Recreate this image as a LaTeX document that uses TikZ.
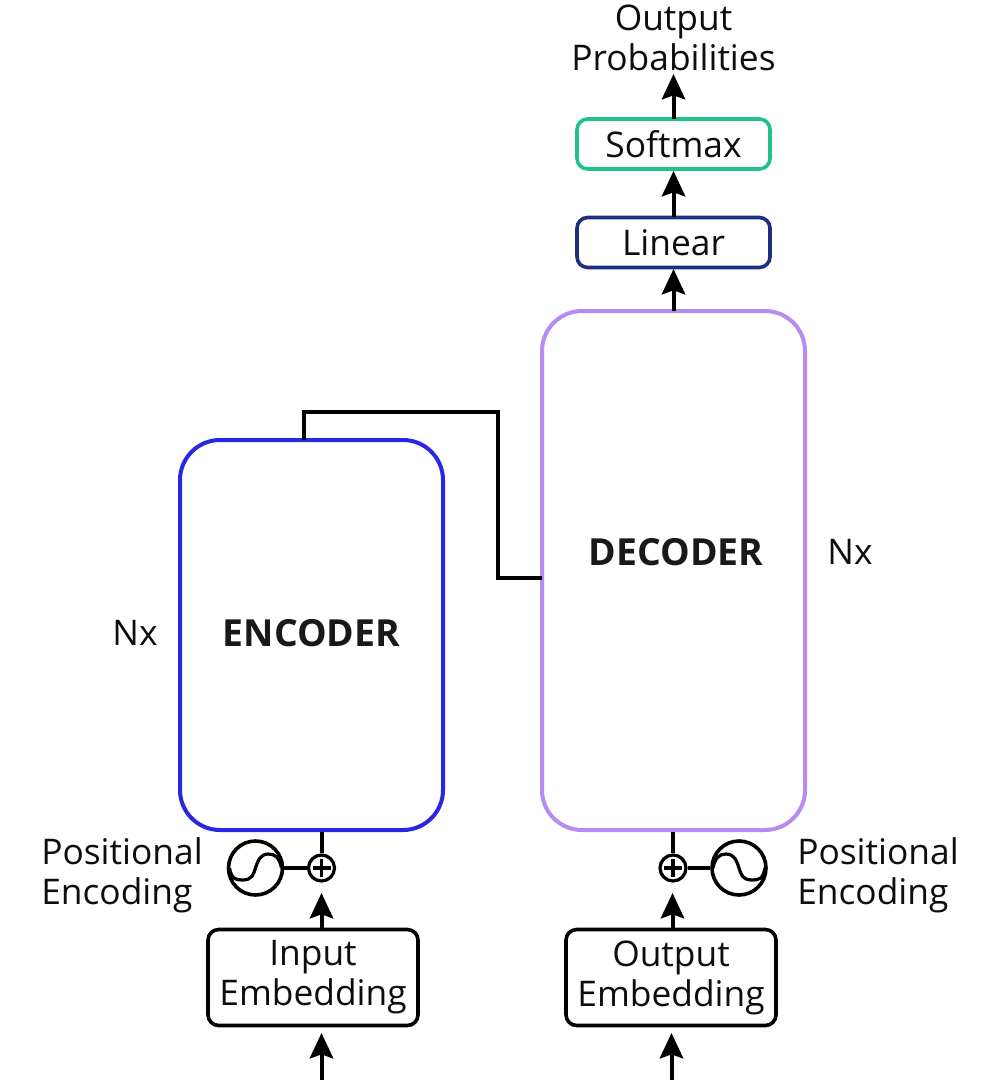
\documentclass[tikz,border=0pt]{standalone}
\usepackage{fontspec}
\setmainfont{Open Sans}
\usetikzlibrary{arrows.meta,calc}
\definecolor{encblue}{HTML}{2A26E4}
\definecolor{decpurple}{HTML}{B48CF2}
\definecolor{softgreen}{HTML}{1FC28F}
\definecolor{linnavy}{HTML}{1E2F80}
\tikzset{
  px/.style={x=0.75pt,y=-0.75pt},
  txt/.style={font=\fontsize{26.5}{30}\selectfont,text=black!95,inner sep=0pt,align=center},
  boldtxt/.style={font=\fontsize{28}{30}\selectfont\bfseries,text=black!90,inner sep=0pt},
  leftxt/.style={font=\fontsize{26.5}{30}\selectfont,text=black!95,inner sep=0pt,align=left,anchor=west},
  bigbox/.style={draw=#1,line width=3pt,rounded corners=30pt,inner sep=0pt,minimum width=197.25pt},
  smallbox/.style={draw=#1,line width=2.7pt,rounded corners=8pt,inner sep=0pt,minimum width=144.75pt,minimum height=37.5pt,txt},
  embbox/.style={draw=black,line width=2.7pt,rounded corners=8pt,inner sep=0pt,minimum width=157.5pt,minimum height=72pt,txt},
  sine/.style={circle,draw=black,line width=2.7pt,minimum size=40.5pt,inner sep=0pt},
  plusn/.style={circle,draw=black,line width=2.4pt,minimum size=19.5pt,inner sep=0pt},
  conn/.style={draw=black,line width=3pt},
  arr/.style={conn,-{Stealth[length=19pt,width=17.5pt,inset=3pt]}},
  curve/.style={draw=black,line width=2.4pt},
}
\begin{document}
\begin{tikzpicture}[px]
\useasboundingbox (0,0) rectangle (1001,1080);
% boxes
\node[bigbox=encblue,minimum height=292.5pt] (enc) at (311.5,635) {};
\node[bigbox=decpurple,minimum height=389.25pt] (dec) at (673.5,570.5) {};
\node[boldtxt] (enct) at (311.5,633) {ENCODER};
\node[boldtxt] (dect) at (676,552) {DECODER};
\node[txt] (nxl) at (135,633) {Nx};
\node[txt] (nxr) at (850,552) {Nx};
\node[smallbox=softgreen] (soft) at (673.5,144) {Softmax};
\node[smallbox=linnavy] (lin) at (673.5,242.5) {Linear};
\node[txt] (prob) at (673.5,38) {Output\\Probabilities};
\node[embbox] (inemb) at (313,977.5) {Input\\Embedding};
\node[embbox] (outemb) at (671,977.5) {Output\\Embedding};
\node[leftxt] (posl) at (41,875) {Positional\\Encoding};
\node[leftxt] (posr) at (797,875) {Positional\\Encoding};
% adders and oscillators
\node[sine] (sl) at (255.5,868) {};
\node[plusn] (pl) at (321.5,868) {};
\node[sine] (sr) at (739,868) {};
\node[plusn] (pr) at (673,868) {};
\foreach \n in {pl,pr}{
  \draw[curve] ($(\n)+(-9,0)$) -- ($(\n)+(9,0)$);
  \draw[curve] ($(\n)+(0,-9)$) -- ($(\n)+(0,9)$);
}
\draw[curve] ($(sl)+(-26,0)$) .. controls ($(sl)+(-24,11)$) and ($(sl)+(-20,12)$) .. ($(sl)+(-13,12)$) .. controls ($(sl)+(-3,12)$) and ($(sl)+(-2,6)$) .. ($(sl)+(0,0)$) .. controls ($(sl)+(2,-6)$) and ($(sl)+(4,-14)$) .. ($(sl)+(13,-14)$) .. controls ($(sl)+(20,-14)$) and ($(sl)+(24,-10)$) .. ($(sl)+(26,0)$);
\draw[curve] ($(sr)+(-26,0)$) .. controls ($(sr)+(-24,-10)$) and ($(sr)+(-20,-14)$) .. ($(sr)+(-13,-14)$) .. controls ($(sr)+(-4,-14)$) and ($(sr)+(-2,-6)$) .. ($(sr)+(0,0)$) .. controls ($(sr)+(2,6)$) and ($(sr)+(3,12)$) .. ($(sr)+(13,12)$) .. controls ($(sr)+(20,12)$) and ($(sr)+(24,11)$) .. ($(sr)+(26,0)$);
% free ends
\coordinate (inl) at (321.5,1080);
\coordinate (inr) at (671.5,1080);
\coordinate (inemtop) at (321.5,929);
\coordinate (inemtopr) at (672.5,929);
\coordinate (inembot) at (321.5,1033);
\coordinate (outembot) at (671.5,1033);
\coordinate (plt) at (321.5,893);
\coordinate (prt) at (672.5,893);
\coordinate (enctop) at (304,440);
\coordinate (c1) at (304,412);
\coordinate (c2) at (498,412);
\coordinate (c3) at (498,578);
\coordinate (c4) at (542,578);
\coordinate (softtop) at (673.5,119);
\coordinate (probbot) at (673.5,74);
\coordinate (lintop) at (673.5,217);
\coordinate (softbot) at (673.5,171);
\coordinate (dectop) at (673.5,311);
\coordinate (linbot) at (673.5,269);
% connectors
\draw[arr] (inl) -- (inembot);
\draw[arr] (inr) -- (outembot);
\draw[arr] (inemtop) -- (plt);
\draw[arr] (inemtopr) -- (prt);
\draw[conn] (pl.north) -- (pl.north |- enc.south);
\draw[conn] (pr.north) -- (pr.north |- dec.south);
\draw[conn] (sl.east) -- (pl.west);
\draw[conn] (sr.west) -- (pr.east);
\draw[conn] (enctop) -- (c1) -- (c2) -- (c3) -- (c4);
\draw[arr] (dectop) -- (linbot);
\draw[arr] (lintop) -- (softbot);
\draw[arr] (softtop) -- (probbot);
\end{tikzpicture}
\end{document}
